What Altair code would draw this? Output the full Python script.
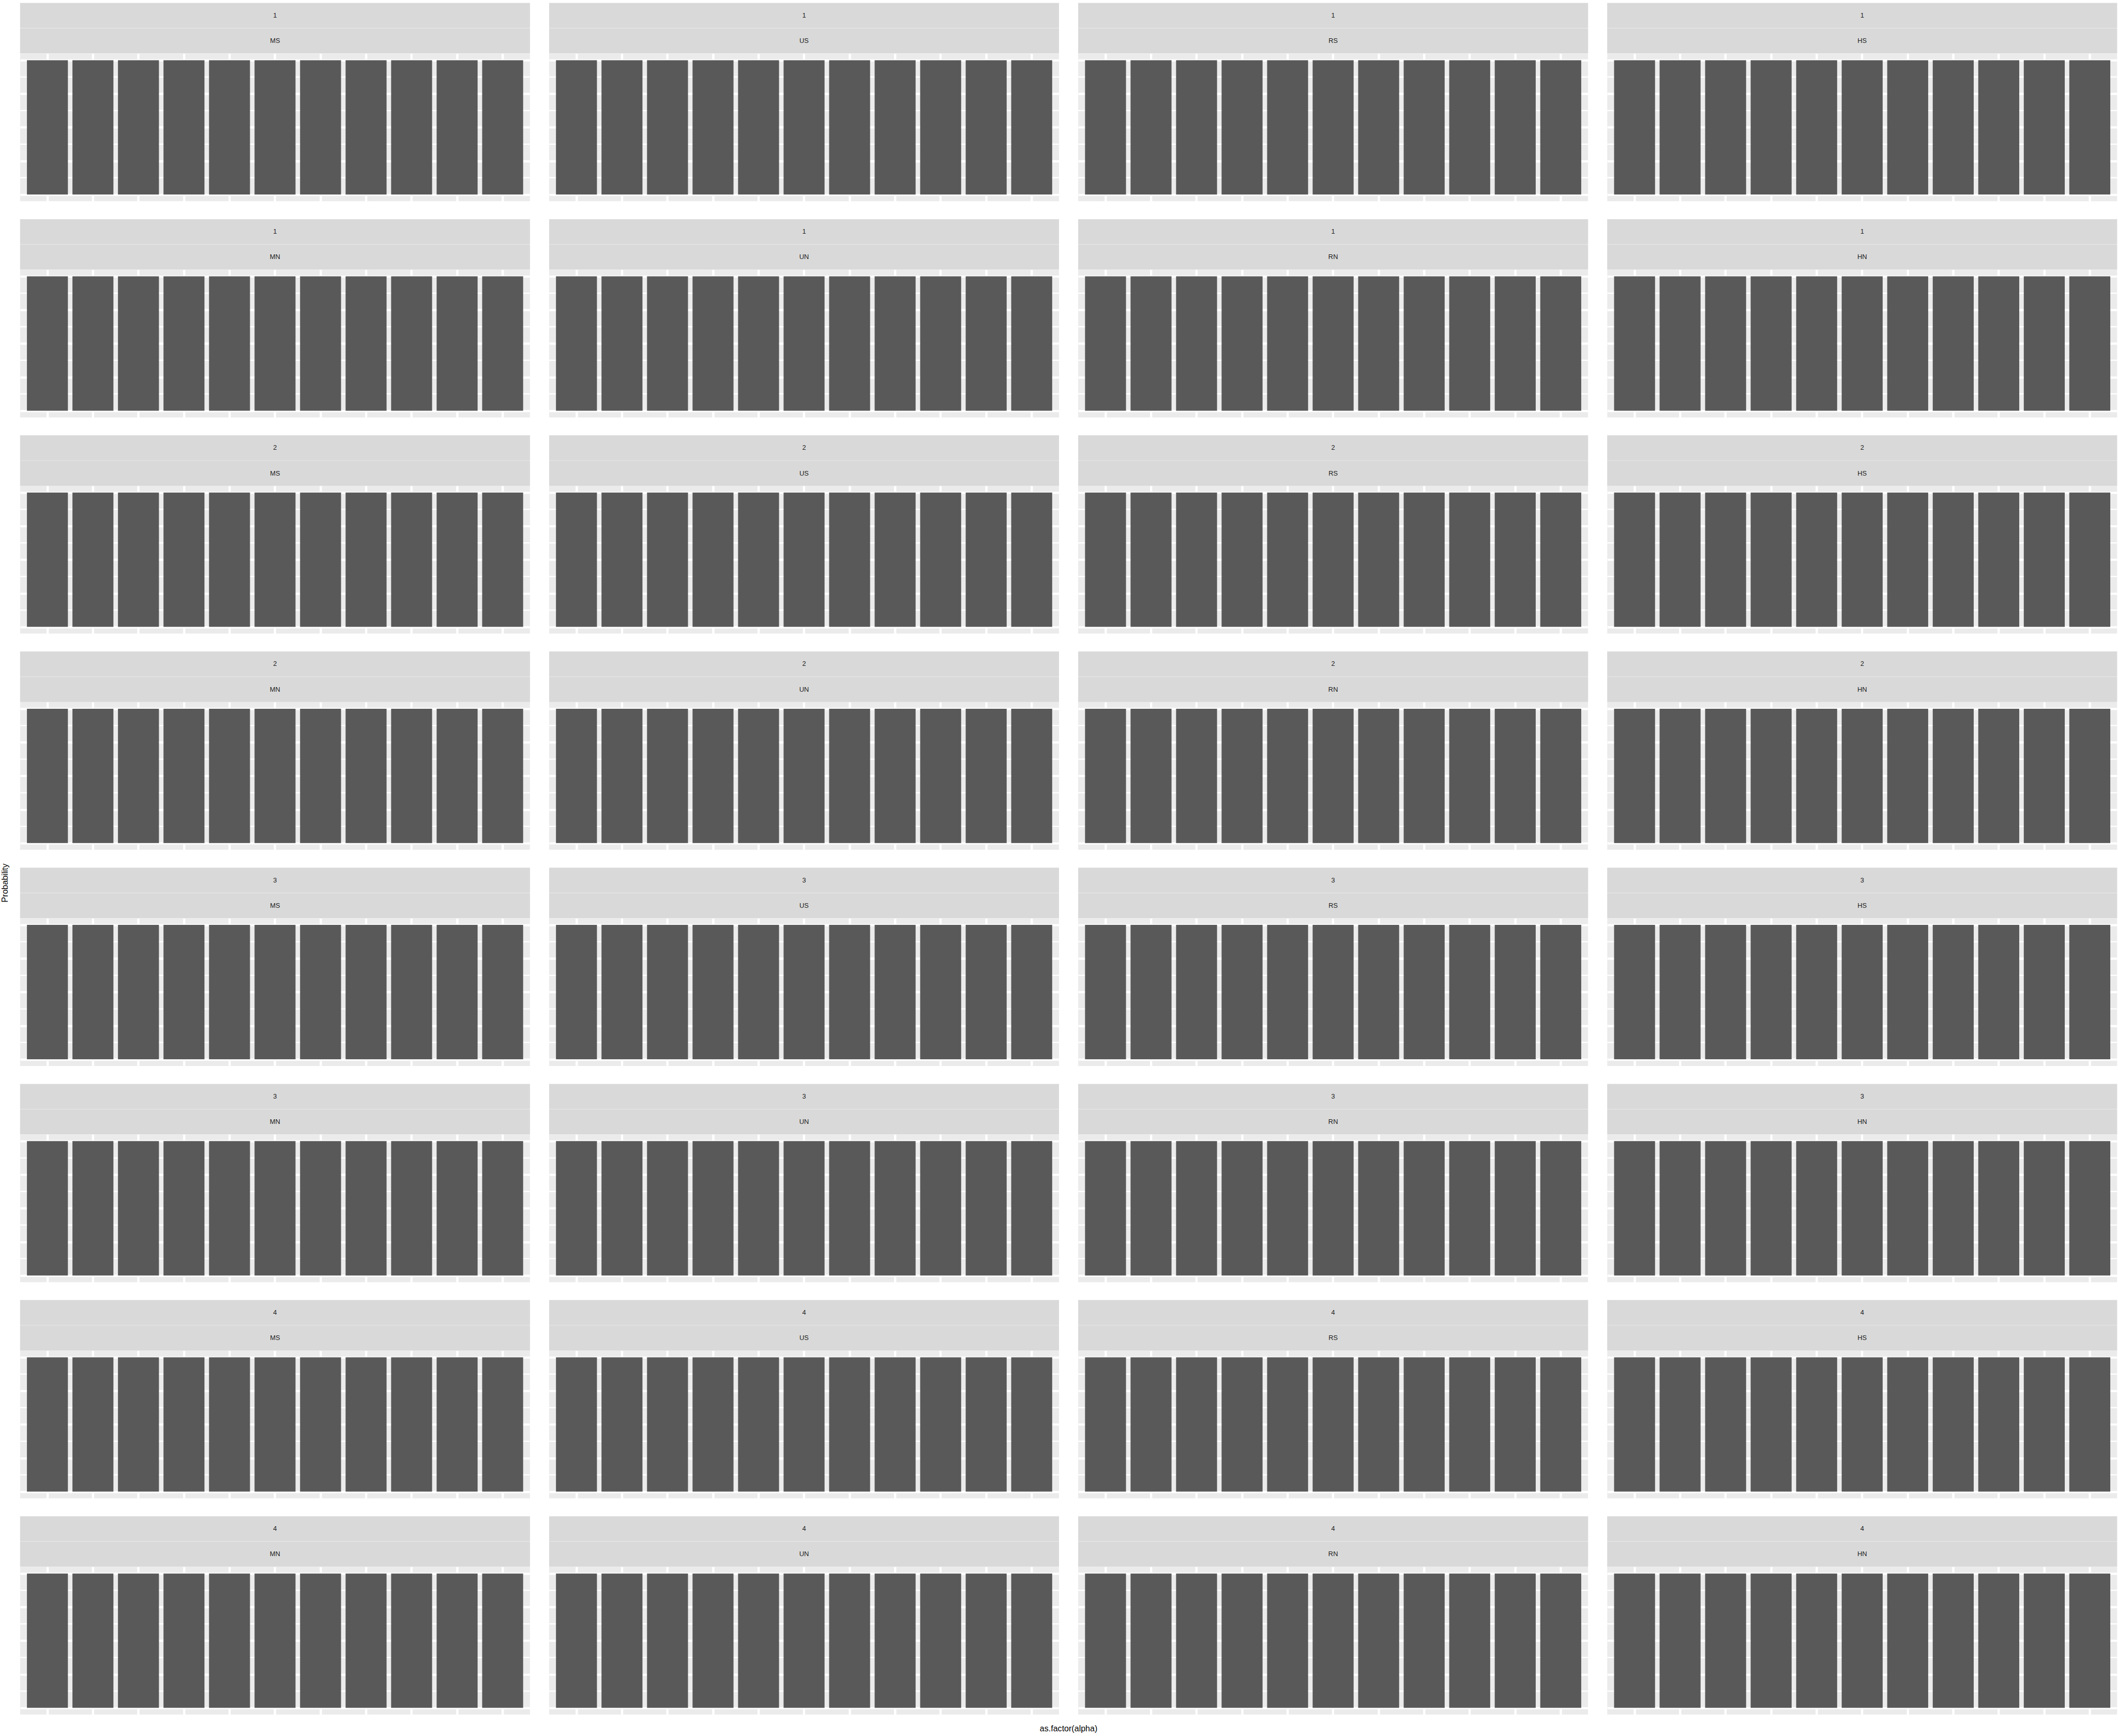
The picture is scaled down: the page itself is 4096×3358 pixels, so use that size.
import altair as alt
import pandas as pd

S = 0.989

# ---- data ----
k_labels = ["1", "2", "3", "4"]            # first strip line (row pairs)
method_codes = ["M", "U", "R", "H"]         # columns
noise_codes = ["S", "N"]                   # alternating rows
alpha_levels = ["0", "0.1", "0.2", "0.3", "0.4", "0.5",
                "0.6", "0.7", "0.8", "0.9", "1"]
probability = [1.0, 1.0, 1.0, 1.0, 1.0, 1.0, 1.0, 1.0, 1.0, 1.0, 1.0]
major_breaks = [0, 0.25, 0.5, 0.75, 1]
minor_breaks = [0.125, 0.375, 0.625, 0.875]

# ---- sizes ----
PW = 1000.4 * S      # panel width
PH = 290 * S         # panel height
SH = 99 * S          # strip height (two lines)
COL_GAP = 34 * S
ROW_GAP = 35 * S

FONT = "Liberation Sans"

yscale = alt.Scale(domain=[-0.05, 1.05], nice=False, zero=False)
yaxis = alt.Axis(values=major_breaks, labels=False, ticks=False, domain=False,
                 title=None, grid=True, gridColor="white", gridWidth=4.2 * S)
xaxis = alt.Axis(labels=False, ticks=False, domain=False, title=None,
                 grid=True, gridColor="white", gridWidth=4.4 * S,
                 bandPosition=0.5)

bar_df = pd.DataFrame({"alpha": alpha_levels, "Probability": probability})
minor_df = pd.DataFrame({"grid": minor_breaks})


def bars_panel():
    minor = alt.Chart(minor_df).mark_rule(color="white", strokeWidth=2.3 * S).encode(
        y=alt.Y("grid:Q", scale=yscale, axis=yaxis)
    )
    bars = alt.Chart(bar_df).mark_bar(color="#595959").encode(
        x=alt.X("alpha:N", sort=alpha_levels,
                scale=alt.Scale(paddingInner=0.1, paddingOuter=0.15),
                axis=xaxis),
        y=alt.Y("Probability:Q", scale=yscale, axis=yaxis),
        y2=alt.datum(0),
    )
    return alt.layer(minor, bars).properties(width=PW, height=PH)


def strip_panel(top_text, bottom_text):
    sdf = pd.DataFrame({"line": ["first", "second"],
                        "label": [top_text, bottom_text]})
    base = alt.Chart(sdf).encode(
        y=alt.Y("line:N", sort=["first", "second"],
                scale=alt.Scale(paddingInner=0.02, paddingOuter=0),
                axis=None)
    )
    rect = base.mark_rect(color="#D9D9D9")
    txt = base.mark_text(font=FONT, fontSize=13.1 * S, color="#1A1A1A").encode(
        text="label:N"
    )
    return alt.layer(rect, txt).properties(width=PW, height=SH)


rows = []
for r in range(8):
    k = k_labels[r // 2]
    nz = noise_codes[r % 2]
    panels = []
    for m in method_codes:
        panels.append(alt.vconcat(strip_panel(k, m + nz), bars_panel(), spacing=0))
    rows.append(alt.hconcat(*panels, spacing=COL_GAP))

grid = alt.vconcat(*rows, spacing=ROW_GAP).properties(
    title=alt.TitleParams("as.factor(alpha)", orient="bottom", anchor="middle",
                          offset=20 * S, fontSize=16.3 * S, font=FONT,
                          fontWeight="normal", color="black")
)

chart = alt.vconcat(grid, spacing=0).properties(
    title=alt.TitleParams("Probability", orient="left", anchor="middle",
                          offset=19.5, dx=-29, fontSize=16.3 * S, font=FONT,
                          fontWeight="normal", color="black"),
    padding={"left": 2, "top": 0, "right": 0, "bottom": 0},
    background="white",
).configure_view(stroke=None, fill="#EBEBEB").configure_axis(minExtent=0)

chart.save("out.html", embed_options={"renderer": "svg", "actions": False})
